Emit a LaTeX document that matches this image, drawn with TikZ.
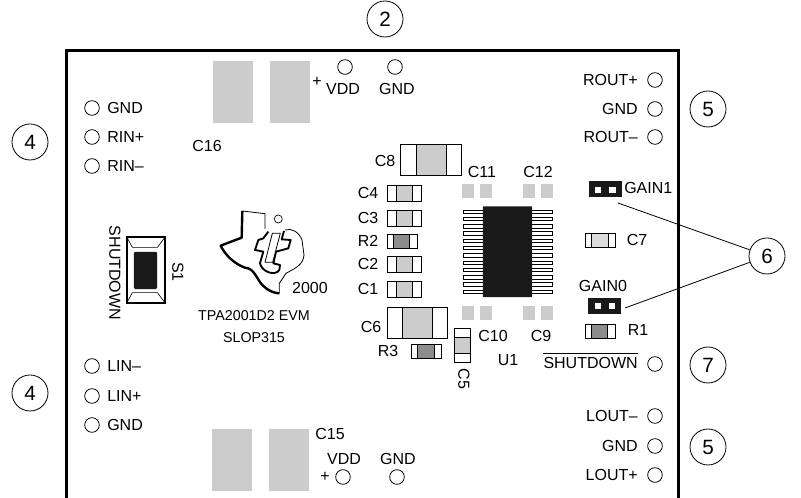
\documentclass[tikz,border=0pt]{standalone}
\usepackage{fontspec}
\setmainfont{Liberation Sans}
\usetikzlibrary{positioning}
\newcommand{\PartFont}{\fontsize{12}{13}\selectfont}
\newcommand{\EvmFont}{\fontsize{10.7}{12}\selectfont}
\newcommand{\CalloutFont}{\fontsize{15.5}{16}\selectfont}
\definecolor{padgray}{gray}{0.80}
\definecolor{resgray}{gray}{0.55}
\tikzstyle{lbl} = [inner sep=0pt, font=\PartFont]
\tikzstyle{lbll} = [lbl, anchor=west]
\tikzstyle{lblr} = [lbl, anchor=east]
\tikzstyle{callout} = [circle, draw=black, line width=0.6pt, minimum size=27pt, inner sep=0pt, font=\CalloutFont]
\tikzstyle{term} = [circle, draw=black, line width=0.6pt, minimum size=11pt, inner sep=0pt]
\tikzstyle{pad} = [fill=padgray, inner sep=0pt]
\tikzstyle{bigpad} = [pad, minimum width=30.5pt, minimum height=47pt]
\tikzstyle{smallpad} = [pad, minimum size=9pt, minimum height=10.5pt]
\tikzstyle{shell} = [draw=black, fill=white, line width=0.7pt, inner sep=0pt]
\tikzstyle{capS} = [shell, minimum width=25.5pt, minimum height=12pt]
\tikzstyle{capSin} = [shell, fill=padgray, minimum width=12pt, minimum height=12pt]
\tikzstyle{capL} = [shell, minimum width=45.5pt, minimum height=23.5pt]
\tikzstyle{capLin} = [shell, fill=padgray, minimum width=22.5pt, minimum height=23.5pt]
\tikzstyle{resS} = [shell, minimum width=22.5pt, minimum height=10.5pt]
\tikzstyle{resSin} = [shell, fill=resgray, minimum width=12.5pt, minimum height=10.5pt]
\tikzstyle{jumper} = [fill=black!90, inner sep=0pt, minimum width=25pt, minimum height=12pt]
\tikzstyle{hole} = [fill=white, inner sep=0pt, minimum size=4.8pt]
\tikzstyle{icpin} = [shell, line width=0.5pt, minimum width=15.5pt, minimum height=2.6pt]

\begin{document}
\begin{tikzpicture}[x=0.75pt, y=-0.75pt]
\useasboundingbox (0,0) rectangle (801,498);

% Board outline
\draw[line width=2.25pt] (66.7,498) -- (66.7,51) -- (678,51) -- (678,498);

% Callouts
\node[callout] (n2)  at (385,19)  {2};
\node[callout] (n4a) at (30,142)  {4};
\node[callout] (n4b) at (30,393)  {4};
\node[callout] (n5a) at (708,109) {5};
\node[callout] (n5b) at (708,447) {5};
\node[callout] (n6)  at (767,256) {6};
\node[callout] (n7)  at (708,365) {7};

% Large pads
\node[bigpad] (c16a) at (233,92)  {};
\node[bigpad] (c16b) at (290,92)  {};
\node[bigpad] (c15a) at (232,460) {};
\node[bigpad] (c15b) at (289,460) {};
\node[lbl] (c16) at (207,146) {C16};
\node[lbl] (c15) at (330,434) {C15};

% Terminals, left
\foreach \name/\ty/\txt in {ta/108/GND, tb/137/RIN+, tc/166/RIN--, td/366/LIN--, te/396/LIN+, tf/425/GND}{
	\node[term] (\name) at (92,\ty) {};
	\node[lbll] (\name l) at (107,\ty) {\txt};
}
% Terminals, right
\foreach \name/\ty/\txt in {tg/80/ROUT+, th/109/GND, ti/137/ROUT--, tj/416/LOUT--, tk/446/GND, tl/475/LOUT+}{
	\node[term] (\name) at (655,\ty) {};
	\node[lblr] (\name l) at (638,\ty) {\txt};
}
\node[term] (tm) at (655,364) {};
\node[lblr] (tml) at (638,363) {SHUTDOWN};
\draw[line width=0.8pt] ([yshift=3pt]tml.north west) -- ([yshift=3pt]tml.north east);

% Terminals, top and bottom
\node[term] (tn) at (345,67)  {};
\node[term] (to) at (395,67)  {};
\node[term] (tp) at (343,477) {};
\node[term] (tq) at (397,477) {};
\node[lbl] (vdda) at (343,89)  {VDD};
\node[lbl] (gnda) at (397,89)  {GND};
\node[lbl] (plsa) at (317,82)  {+};
\node[lbl] (vddb) at (344,459) {VDD};
\node[lbl] (gndb) at (398,459) {GND};
\node[lbl] (plsb) at (325,477) {+};

% Capacitors and resistors
\foreach \name/\tx/\ty/\txt in {c4/404/193/C4, c3/404/218/C3, c2/404/264/C2, c1/404/289/C1}{
	\node[capS]   (\name)  at (\tx,\ty) {};
	\node[capSin] (\name i) at (\tx,\ty) {};
	\node[lbl]    (\name l) at (368,\ty) {\txt};
}
\node[capL]   (c8)  at (431,160) {};
\node[capLin] (c8i) at (431,160) {};
\node[lbl]    (c8l) at (385,161) {C8};
\node[capL]   (c6)  at (417.5,323) {};
\node[capLin] (c6i) at (417.5,323) {};
\node[lbl]    (c6l) at (371,327) {C6};

\node[resS]   (r2)  at (402,241) {};
\node[resSin] (r2i) at (401.5,241) {};
\node[lbl]    (r2l) at (368,241) {R2};
\node[resS]   (r3)  at (426,351.5) {};
\node[resSin] (r3i) at (426,351.5) {};
\node[lbl]    (r3l) at (388,351) {R3};
\node[resS]   (r1)  at (600,331) {};
\node[resSin] (r1i) at (599.5,331) {};
\node[lbl]    (r1l) at (638,330) {R1};
\node[resS]   (c7)  at (600,240) {};
\node[resSin, fill=padgray!70] (c7i) at (600,240) {};
\node[lbl]    (c7l) at (637,240) {C7};

\node[shell, minimum width=11.5pt, minimum height=25.5pt] (c5) at (462.5,345) {};
\node[shell, fill=padgray, minimum width=11.5pt, minimum height=12pt] (c5i) at (462.5,345) {};
\node[lbl, rotate=-90] (c5l) at (464,379) {C5};

% Chip
\foreach \i in {0,...,11}{
	\node[icpin] (pl\i) at (473.5,{211.7+\i*7.27}) {};
	\node[icpin] (pr\i) at (541.5,{211.7+\i*7.27}) {};
}
\node[fill=black!90, inner sep=0pt, rounded corners=0.5pt, minimum width=37pt, minimum height=68pt] (u1) at (507.5,251.7) {};
\node[lbl] (u1l) at (508,360) {U1};

\foreach \name/\tx in {pa/468, pb/486, pc/529, pd/547}{
	\node[smallpad] (\name) at (\tx,191) {};
	\node[smallpad] (\name b) at (\tx,313) {};
}
\node[lbl] (c11) at (482,172) {C11};
\node[lbl] (c12) at (538,172) {C12};
\node[lbl] (c10) at (493,336) {C10};
\node[lbl] (c9)  at (541,336) {C9};

% Jumpers
\node[jumper] (gain1) at (605.5,189) {};
\node[hole] at (598,190) (g1a) {};
\node[hole] at (612.5,190) (g1b) {};
\node[lbll] (gain1l) at (624,188) {GAIN1};
\node[jumper] (gain0) at (604.5,306) {};
\node[hole] at (598,306) (g0a) {};
\node[hole] at (612,306) (g0b) {};
\node[lbl] (gain0l) at (603,286) {GAIN0};
\coordinate (g1end) at (618,203);
\coordinate (g0end) at (625,308);
\draw[line width=0.6pt] (g1end) -- (n6);
\draw[line width=0.6pt] (g0end) -- (n6);

% Switch
\node[draw=black, line width=1.4pt, fill=white, inner sep=0pt, minimum width=28pt, minimum height=49pt] (s1) at (146,270) {};
\node[fill=black!90, inner sep=0pt, rounded corners=1pt, minimum width=17.5pt, minimum height=28pt] (s1i) at (145.5,270.5) {};
\draw[line width=0.5pt] (s1.north west) -- ++(6,11) -- ++(25,0) -- (s1.north east);
\draw[line width=0.5pt] (s1.south west) -- ++(6,-11) -- ++(25,0) -- (s1.south east);
\node[lbl, rotate=-90] (s1sd) at (115,273) {SHUTDOWN};
\node[lbl, rotate=-90] (s1l)  at (178,272) {S1};

% Logo
\begin{scope}[shift={(210,205)}, x=0.25pt, y=-0.25pt, line join=round]
	\draw[line width=0.6pt] (97,18) -- (165,26) -- (165,72);
	\draw[line width=0.6pt] (225,75) .. controls (245,68) and (268,82) .. (276,105) -- (282,150) .. controls (280,180) and (255,190) .. (228,205) -- (208,235) -- (208,265);
	\draw[line width=1.8pt] (97,18) -- (95,98) -- (32,122) .. controls (45,150) and (75,178) .. (105,188) .. controls (135,190) and (140,225) .. (160,243) .. controls (175,258) and (195,265) .. (208,265);
	\draw[line width=1.4pt] (175,80) -- (160,100) -- (145,105) -- (135,135) -- (160,140) -- (150,175) .. controls (155,200) and (195,215) .. (208,195) -- (210,180) -- (190,175) -- (198,140) -- (235,130) -- (242,105) -- (215,103) -- (222,78);
	\draw[line width=0.6pt, fill=white] (187,85) -- (211,85) -- (188,172) -- (165,172) -- cycle;
	\node[circle, draw=black, line width=0.5pt, minimum size=6pt, inner sep=0pt] (logodot) at (205,42) {};
\end{scope}
\node[lbl] (yr) at (310,288) {2000};
\node[lbl, font=\EvmFont] (evm) at (254,316) {TPA2001D2 EVM};
\node[lbl, font=\EvmFont] (slop) at (254,338) {SLOP315};
\end{tikzpicture}
\end{document}
